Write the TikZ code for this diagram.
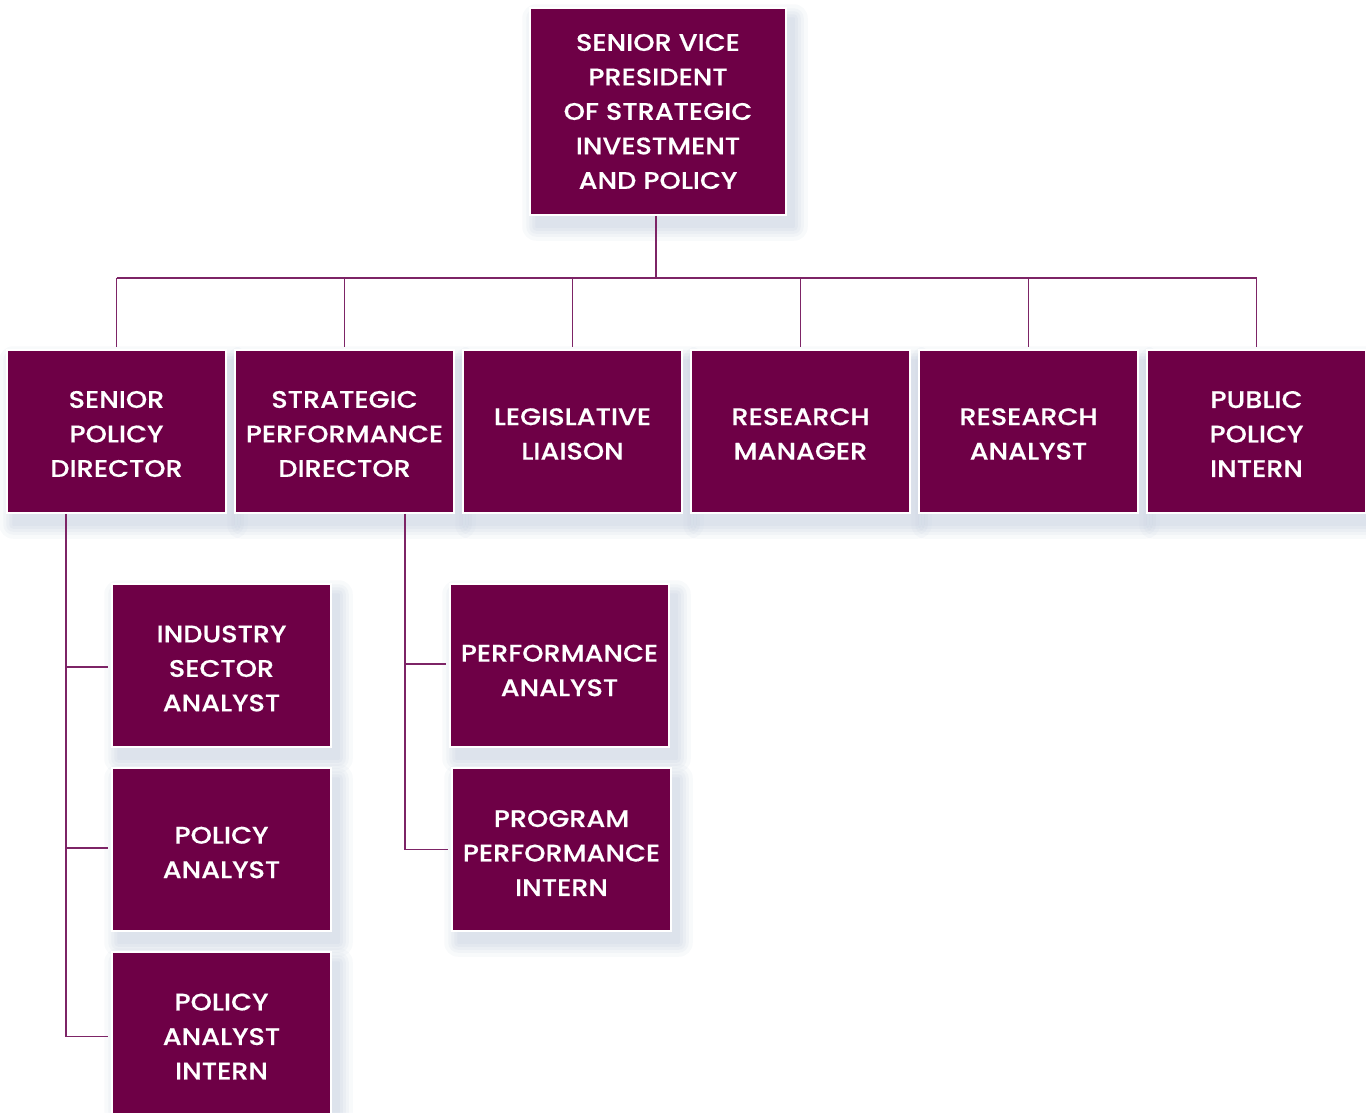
\documentclass[tikz,border=0pt]{standalone}
\usepackage{fontspec}
\newfontfamily\boxfont{Poppins Medium}[FakeStretch=1.13,FakeBold=0.4]
\usetikzlibrary{calc,backgrounds}
\pgfdeclarelayer{shade}
\pgfsetlayers{background,shade,main}
\definecolor{boxc}{HTML}{6E0046}
\definecolor{linkc}{HTML}{7D2466}
\definecolor{shadc}{HTML}{C3CEDF}
\tikzset{
  orgbox/.style={fill=boxc, draw=white, line width=1.5pt,
    inner sep=0pt, minimum width=219pt, minimum height=163pt},
  boxtext/.style={text=white, align=center, inner sep=0pt,
    font=\boxfont\fontsize{24}{34.5}\selectfont},
  link/.style={draw=linkc, line width=1.3pt}
}
% box with its title set slightly below the centre
\newcommand\orgnode[5][]{%
  \node[orgbox,#1,label={[boxtext,yshift=#4]center:{#5}}] (#2) at #3 {};}
% soft drop shadow behind a named node
\newcommand\softshadow[1]{%
  \begin{pgfonlayer}{shade}
    \foreach \r/\o in {14/0.10,10/0.12,7/0.14,4/0.16,1/0.18}{
      \fill[shadc, opacity=\o, rounded corners=\r pt]
        ($(#1.north west)+(7-\r,11-\r)$) rectangle ($(#1.south east)+(7+\r,11+\r)$);
    }
  \end{pgfonlayer}}
\begin{document}
\begin{tikzpicture}[x=1pt,y=-1pt]
\begin{pgfonlayer}{background}
  \fill[white] (0,0) rectangle (1366,1112);
\end{pgfonlayer}
\useasboundingbox (0,0) rectangle (1366,1112);

\orgnode[minimum width=256pt, minimum height=207pt]{svp}{(658,111.5)}{0pt}
  {SENIOR VICE\\PRESIDENT\\OF STRATEGIC\\INVESTMENT\\AND POLICY}

\orgnode{spd}{(116.5,431.5)}{-2.5pt}{SENIOR\\POLICY\\DIRECTOR}
\orgnode{spf}{(344.5,431.5)}{-2.5pt}{STRATEGIC\\PERFORMANCE\\DIRECTOR}
\orgnode{leg}{(572.5,431.5)}{-2.5pt}{LEGISLATIVE\\LIAISON}
\orgnode{rsm}{(800.5,431.5)}{-2.5pt}{RESEARCH\\MANAGER}
\orgnode{rsa}{(1028.5,431.5)}{-2.5pt}{RESEARCH\\ANALYST}
\orgnode{ppi}{(1256.5,431.5)}{-2.5pt}{PUBLIC\\POLICY\\INTERN}

\orgnode{isa}{(221.5,665.5)}{-3pt}{INDUSTRY\\SECTOR\\ANALYST}
\orgnode{pan}{(221.5,849.5)}{-3pt}{POLICY\\ANALYST}
\orgnode{pai}{(221.5,1033.5)}{-3pt}{POLICY\\ANALYST\\INTERN}

\orgnode{pfa}{(559.5,665.5)}{-5pt}{PERFORMANCE\\ANALYST}
\orgnode{ppn}{(561.5,849.5)}{-3.5pt}{PROGRAM\\PERFORMANCE\\INTERN}

\foreach \n in {svp,spd,spf,leg,rsm,rsa,ppi,isa,pan,pai,pfa,ppn}{\softshadow{\n}}

% top-level bus
\coordinate (bus) at (656,278);
\coordinate (lsp) at (66,0);
\coordinate (rsp) at (405,0);
\draw[link] (svp.south -| bus) -- (bus);
\draw[link] (spd.north |- bus) -- (ppi.north |- bus);
\foreach \n in {spd,spf,leg,rsm,rsa,ppi}{
  \draw[link] (\n.north |- bus) -- ($(\n.north)+(0,-2)$);
}

% senior policy director reports
\draw[link] (spd.south -| lsp) -- ($(pai.west -| lsp)+(0,3)$) -- ($(pai.west)+(-3,3)$);
\draw[link] ($(isa.west -| lsp)+(0,1.5)$) -- ($(isa.west)+(-3,1.5)$);
\draw[link] ($(pan.west -| lsp)+(0,-1.5)$) -- ($(pan.west)+(-3,-1.5)$);

% strategic performance director reports
\draw[link] (spf.south -| rsp) -- ($(ppn.west -| rsp)$) -- ($(ppn.west)+(-3,0)$);
\draw[link] ($(pfa.west -| rsp)+(0,-1.5)$) -- ($(pfa.west)+(-3,-1.5)$);
\end{tikzpicture}
\end{document}
